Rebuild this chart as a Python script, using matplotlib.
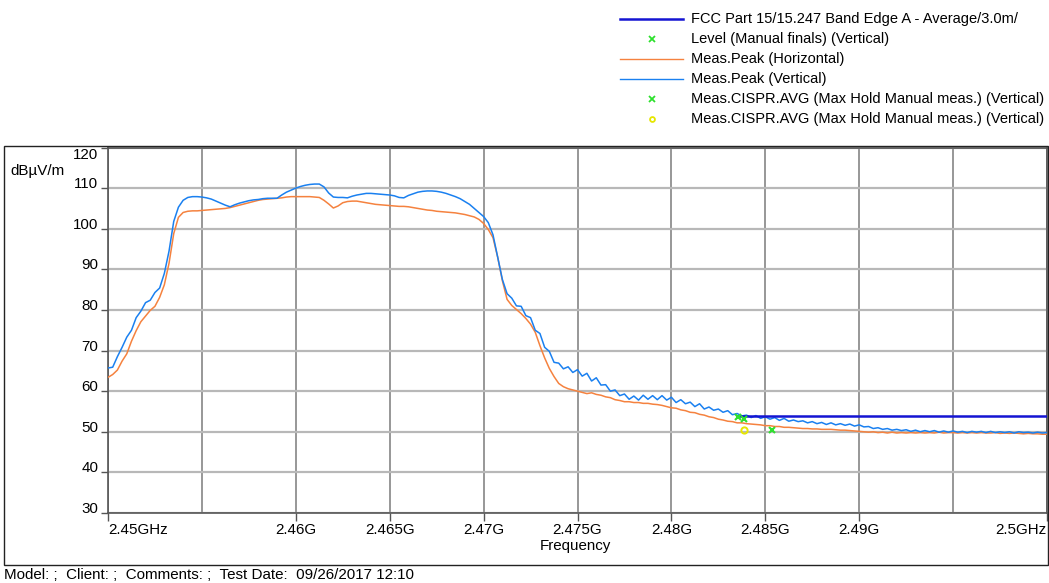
import numpy as np
import matplotlib
matplotlib.use("Agg")
import matplotlib.pyplot as plt
from matplotlib.lines import Line2D
from matplotlib.patches import Rectangle

plt.rcParams["font.family"] = ["Liberation Sans", "DejaVu Sans"]
FS = 10.9
FS_LEGEND = 10.5

# Sweep grid of the receiver (MHz)
sweep_start_mhz = 2450.0
sweep_step_mhz = 0.25

# Meas.Peak (Vertical), dBuV/m, one value per sweep point
peak_vertical = [
    65.7, 65.9, 68.5, 70.8, 73.3, 75.0, 78.1, 79.7, 81.8, 82.4,
    84.3, 85.4, 89.0, 94.5, 101.8, 105.3, 107.0, 107.7, 107.9, 107.9,
    107.8, 107.6, 107.3, 106.8, 106.3, 105.8, 105.4, 105.9, 106.3, 106.6,
    106.9, 107.1, 107.2, 107.4, 107.5, 107.5, 107.5, 108.3, 109.0, 109.5,
    110.0, 110.4, 110.7, 110.9, 111.0, 111.0, 110.3, 108.8, 107.8, 107.7,
    107.7, 107.6, 108.0, 108.3, 108.5, 108.7, 108.7, 108.6, 108.5, 108.4,
    108.3, 108.1, 107.7, 107.6, 108.2, 108.6, 109.0, 109.2, 109.3, 109.3,
    109.2, 109.0, 108.7, 108.3, 107.9, 107.4, 106.7, 106.0, 105.0, 104.0,
    103.0, 101.5, 98.5, 93.0, 87.5, 84.0, 82.9, 81.0, 80.9, 78.6,
    78.1, 75.0, 74.2, 70.8, 69.8, 67.1, 66.9, 65.5, 66.0, 64.6,
    65.3, 63.7, 64.4, 62.5, 63.3, 61.5, 61.6, 60.0, 60.3, 58.9,
    59.3, 58.0, 58.8, 57.8, 59.0, 58.0, 58.9, 57.9, 58.9, 57.8,
    58.5, 57.2, 57.9, 56.9, 57.3, 56.2, 56.9, 55.6, 56.1, 55.3,
    55.6, 54.8, 55.2, 54.2, 54.5, 53.9, 54.1, 53.5, 54.0, 53.3,
    53.7, 53.1, 53.5, 52.8, 53.3, 52.6, 52.9, 52.5, 52.7, 52.2,
    52.5, 52.0, 52.3, 51.8, 52.2, 51.7, 52.0, 51.6, 51.9, 51.4,
    51.7, 51.2, 51.3, 50.8, 51.0, 50.6, 50.8, 50.4, 50.6, 50.3,
    50.5, 50.1, 50.4, 50.0, 50.3, 50.0, 50.3, 49.9, 50.2, 49.9,
    50.2, 49.9, 50.1, 49.8, 50.1, 49.9, 50.1, 49.8, 50.1, 49.8,
    50.0, 49.8, 50.0, 49.7, 50.0, 49.8, 49.9, 49.7, 49.9, 49.7,
    49.8,
]

# Meas.Peak (Horizontal), dBuV/m
peak_horizontal = [
    63.4, 64.1, 65.2, 67.4, 69.2, 72.3, 74.9, 77.1, 78.5, 79.9,
    80.9, 83.1, 86.2, 91.5, 98.8, 102.8, 104.0, 104.3, 104.4, 104.4,
    104.5, 104.6, 104.7, 104.8, 104.9, 105.0, 105.2, 105.5, 105.8, 106.1,
    106.4, 106.7, 107.0, 107.2, 107.3, 107.4, 107.5, 107.6, 107.8, 107.9,
    107.9, 107.9, 107.9, 107.9, 107.8, 107.7, 107.0, 106.1, 105.1, 105.6,
    106.4, 106.7, 106.8, 106.8, 106.6, 106.4, 106.2, 106.0, 105.9, 105.8,
    105.7, 105.6, 105.5, 105.5, 105.4, 105.2, 105.0, 104.8, 104.6, 104.5,
    104.3, 104.2, 104.1, 104.0, 103.9, 103.7, 103.5, 103.2, 102.9, 102.3,
    101.3, 99.8, 97.8, 93.0, 87.2, 82.6, 81.1, 80.1, 79.1, 77.9,
    76.5, 74.5, 71.2, 68.2, 65.6, 63.6, 61.9, 61.1, 60.6, 60.3,
    60.0, 59.7, 59.4, 59.6, 59.2, 59.0, 58.6, 58.4, 57.9, 57.7,
    57.4, 57.4, 57.2, 57.2, 57.0, 57.0, 56.8, 56.7, 56.5, 56.2,
    55.9, 55.8, 55.4, 55.2, 54.8, 54.7, 54.3, 54.1, 53.7, 53.5,
    53.1, 52.9, 52.6, 52.5, 52.2, 52.2, 52.0, 51.9, 51.8, 51.7,
    51.5, 51.5, 51.3, 51.3, 51.1, 51.1, 51.0, 50.9, 50.8, 50.8,
    50.7, 50.7, 50.6, 50.6, 50.6, 50.5, 50.4, 50.4, 50.3, 50.2,
    50.1, 50.0, 49.9, 50.0, 49.8, 49.9, 49.7, 49.9, 49.7, 49.8,
    49.7, 49.8, 49.7, 49.8, 49.7, 49.8, 49.7, 49.9, 49.7, 49.8,
    49.8, 49.7, 49.8, 49.7, 49.8, 49.7, 49.8, 49.7, 49.7, 49.8,
    49.6, 49.7, 49.6, 49.7, 49.6, 49.5, 49.6, 49.5, 49.5, 49.4,
    49.4,
]

# FCC Part 15.247 average limit above the band edge
limit_freq = [2483.5, 2500.0]
limit_level = [54.0, 54.0]

# Final measurements
level_finals_freq = [2483.55, 2485.35]
level_finals_value = [53.75, 50.5]
cispr_avg_x_freq = [2483.85]
cispr_avg_x_value = [53.2]
cispr_avg_o_freq = [2483.85]
cispr_avg_o_value = [50.5]

# Axis ticks
x_tick_mhz = [2450, 2460, 2465, 2470, 2475, 2480, 2485, 2490, 2500]
x_tick_labels = ["2.45GHz", "2.46G", "2.465G", "2.47G", "2.475G",
                 "2.48G", "2.485G", "2.49G", "2.5GHz"]
x_grid_only_mhz = [2455, 2495]
y_ticks = [30, 40, 50, 60, 70, 80, 90, 100, 110, 120]

C_VERT = "#1a80f0"
C_HORZ = "#f5823f"
C_LIMIT = "#1414d2"
C_GREEN = "#2ee02e"
C_YELLOW = "#e6e600"

W, H = 1049, 583
fig = plt.figure(figsize=(W / 100, H / 100), dpi=100)


def fx(px):
    return px / W


def fy(py):
    return 1 - py / H


ax = fig.add_axes([fx(108), fy(513), fx(1047) - fx(108), fy(147.5) - fy(513)])

freq_v = sweep_start_mhz + sweep_step_mhz * np.arange(len(peak_vertical))
freq_h = sweep_start_mhz + sweep_step_mhz * np.arange(len(peak_horizontal))

ax.plot(freq_h, peak_horizontal, color=C_HORZ, lw=1.1, zorder=3)
ax.plot(freq_v, peak_vertical, color=C_VERT, lw=1.1, zorder=4)
ax.plot(limit_freq, limit_level, color=C_LIMIT, lw=1.8, zorder=5)
ax.plot(level_finals_freq, level_finals_value, ls="none", marker="x",
        ms=5, mew=1.5, color=C_GREEN, zorder=6)
ax.plot(cispr_avg_x_freq, cispr_avg_x_value, ls="none", marker="x",
        ms=5, mew=1.5, color=C_GREEN, zorder=6)
ax.plot(cispr_avg_o_freq, cispr_avg_o_value, ls="none", marker="o",
        ms=4.5, mew=1.4, mfc="none", mec=C_YELLOW, zorder=6)

ax.set_xlim(2450, 2500)
ax.set_ylim(30, 120)

ax.set_xticks(x_tick_mhz)
ax.set_xticklabels(x_tick_labels)
ax.set_xticks(x_grid_only_mhz, minor=True)
ax.set_yticks(y_ticks)
ax.set_yticklabels([str(v) for v in y_ticks])

ax.tick_params(axis="x", which="major", direction="out", length=6, width=1,
               color="#555555", labelsize=FS, pad=1.5)
ax.tick_params(axis="x", which="minor", length=0)
ax.tick_params(axis="y", direction="out", length=5, width=1,
               color="#555555", labelsize=FS, pad=2)

for lab in ax.get_xticklabels():
    lab.set_ha("center")
xl = ax.get_xticklabels()
xl[0].set_ha("left")
xl[-1].set_ha("right")
for lab in ax.get_yticklabels():
    lab.set_va("baseline")
ax.get_yticklabels()[-1].set_va("top")

ax.xaxis.grid(True, which="both", color="#8f8f8f", lw=1.3)
ax.yaxis.grid(True, color="#b8b8b8", lw=1.6)
ax.set_axisbelow(True)
for s in ax.spines.values():
    s.set_color("#555555")
    s.set_linewidth(1.2)

fig.text(fx(575), fy(546), "Frequency", ha="center", va="center", fontsize=FS)
fig.text(fx(10), fy(171), "dB\u00b5V/m", ha="left", va="center", fontsize=FS)
fig.text(fx(4), fy(575), "Model: ;  Client: ;  Comments: ;  Test Date:  09/26/2017 12:10",
         ha="left", va="center", fontsize=FS)

# Outer frame around the graph area
fig.add_artist(Rectangle((fx(4), fy(565)), fx(1048) - fx(4), fy(146) - fy(565),
                         transform=fig.transFigure, fill=False,
                         edgecolor="#222222", lw=1.0))

# Legend block
legend_rows = [
    ("line", C_LIMIT, 1.8, "FCC Part 15/15.247 Band Edge A - Average/3.0m/"),
    ("x", C_GREEN, None, "Level (Manual finals) (Vertical)"),
    ("line", C_HORZ, 1.0, "Meas.Peak (Horizontal)"),
    ("line", C_VERT, 1.0, "Meas.Peak (Vertical)"),
    ("x", C_GREEN, None, "Meas.CISPR.AVG (Max Hold Manual meas.) (Vertical)"),
    ("o", C_YELLOW, None, "Meas.CISPR.AVG (Max Hold Manual meas.) (Vertical)"),
]
row_y = [19.3, 38.8, 59.3, 79.3, 99.3, 119.3]
for (kind, col, lw, text), py in zip(legend_rows, row_y):
    if kind == "line":
        fig.add_artist(Line2D([fx(620), fx(683)], [fy(py), fy(py)],
                              transform=fig.transFigure, color=col, lw=lw))
    elif kind == "x":
        fig.add_artist(Line2D([fx(652)], [fy(py)], transform=fig.transFigure,
                              ls="none", marker="x", ms=4, mew=1.3, color=col))
    else:
        fig.add_artist(Line2D([fx(652)], [fy(py)], transform=fig.transFigure,
                              ls="none", marker="o", ms=3.5, mew=1.3,
                              mfc="none", mec=col))
    fig.text(fx(691), fy(py), text, ha="left", va="center", fontsize=FS_LEGEND)

fig.savefig("out.png", dpi=100)
